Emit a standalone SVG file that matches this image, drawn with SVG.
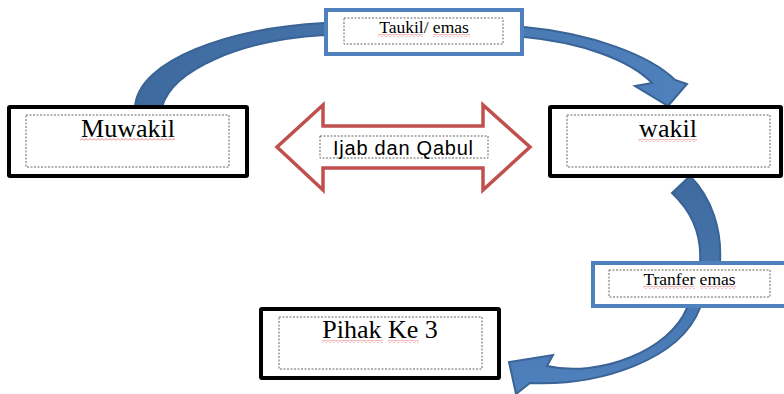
<svg xmlns="http://www.w3.org/2000/svg" width="784" height="394" viewBox="0 0 784 394">
<style>
.box{fill:#fff;stroke:#000;stroke-width:4}
.bbox{fill:#fff;stroke:#4f81bd;stroke-width:4}
.dash{fill:none;stroke:#666;stroke-width:1;stroke-dasharray:2 1.5}
.serif{font-family:"Liberation Serif","Times New Roman",serif;fill:#000;text-anchor:middle}
.sans{font-family:"Liberation Sans",Arial,sans-serif;fill:#000}
.barrow{stroke:#3a6396;stroke-width:2;stroke-linejoin:miter}
.sq{fill:url(#sq)}
</style>
<defs>
<pattern id="sq" width="4" height="3" patternUnits="userSpaceOnUse">
<path d="M0,2.5 L2,0.5 L4,2.5" fill="none" stroke="#e05a5a" stroke-width="0.8"/>
</pattern>
<linearGradient id="g1" gradientUnits="userSpaceOnUse" x1="135" y1="0" x2="690" y2="0">
<stop offset="0" stop-color="#3e6a9e"/>
<stop offset="1" stop-color="#4f81bd"/>
</linearGradient>
<linearGradient id="g2" gradientUnits="userSpaceOnUse" x1="0" y1="176" x2="0" y2="394">
<stop offset="0" stop-color="#3e6a9e"/>
<stop offset="1" stop-color="#4f81bd"/>
</linearGradient>
</defs>
<rect width="784" height="394" fill="#fff"/>
<g id="connectors">
<path class="barrow" fill="url(#g1)" d="M135,107 C138,60 230,28 324,23 L524,27 C590,33 650,55 675,80 L687,84 L668,106 L635,86 L652,83 C630,60 580,42 524,37 L324,35 C240,40 172,70 162,107 Z"/>
<path class="barrow" fill="url(#g2)" d="M690,176 C712,198 722,230 720,262 L700,308 C680,360 600,386 530,383 L516,394 L509,362 L553,355 L547,366 C600,378 670,350 687,308 L700,262 C702,232 690,210 672,193 Z"/>
<polygon points="277,147 323,105 323,126 483,126 483,105 530,147 483,190 483,168 323,168 323,190" fill="#fff" stroke="#c0504d" stroke-width="3.5" stroke-linejoin="miter"/>
<rect class="dash" x="320" y="136" width="168" height="22"/>
<text class="sans" x="333" y="155" font-size="20" textLength="140" lengthAdjust="spacing">Ijab dan Qabul</text>
</g>
<g id="node-muwakil">
<rect class="box" x="9" y="107" width="238" height="69" rx="1"/>
<rect class="dash" x="26" y="115" width="203" height="52"/>
<text class="serif" x="128" y="137" font-size="26">Muwakil</text>
<rect class="sq" x="80" y="138" width="95" height="3"/>
</g>
<g id="node-wakil">
<rect class="box" x="550" y="107" width="231" height="69" rx="1"/>
<rect class="dash" x="567" y="115" width="203" height="52"/>
<text class="serif" x="668" y="137" font-size="26">wakil</text>
<rect class="sq" x="638" y="139" width="59" height="3"/>
</g>
<g id="node-pihak">
<rect class="box" x="261" y="309" width="238" height="69" rx="1"/>
<rect class="dash" x="279" y="317" width="203" height="52"/>
<text class="serif" x="380" y="338" font-size="26">Pihak Ke 3</text>
<rect class="sq" x="322" y="340" width="61" height="3"/>
<rect class="sq" x="388" y="340" width="31" height="3"/>
</g>
<g id="node-taukil">
<rect class="bbox" x="326" y="10" width="196" height="44"/>
<rect class="dash" x="344" y="18" width="159" height="26"/>
<text class="serif" x="424" y="33" font-size="17.5">Taukil/ emas</text>
<rect class="sq" x="378" y="34" width="45" height="3"/>
<rect class="sq" x="433" y="34" width="37" height="3"/>
</g>
<g id="node-tranfer">
<rect class="bbox" x="593" y="263" width="195" height="43"/>
<rect class="dash" x="609" y="270" width="161" height="27"/>
<text class="serif" x="689.5" y="285" font-size="17.5">Tranfer emas</text>
<rect class="sq" x="643" y="286" width="52" height="3"/>
<rect class="sq" x="700" y="286" width="36" height="3"/>
</g>
</svg>
